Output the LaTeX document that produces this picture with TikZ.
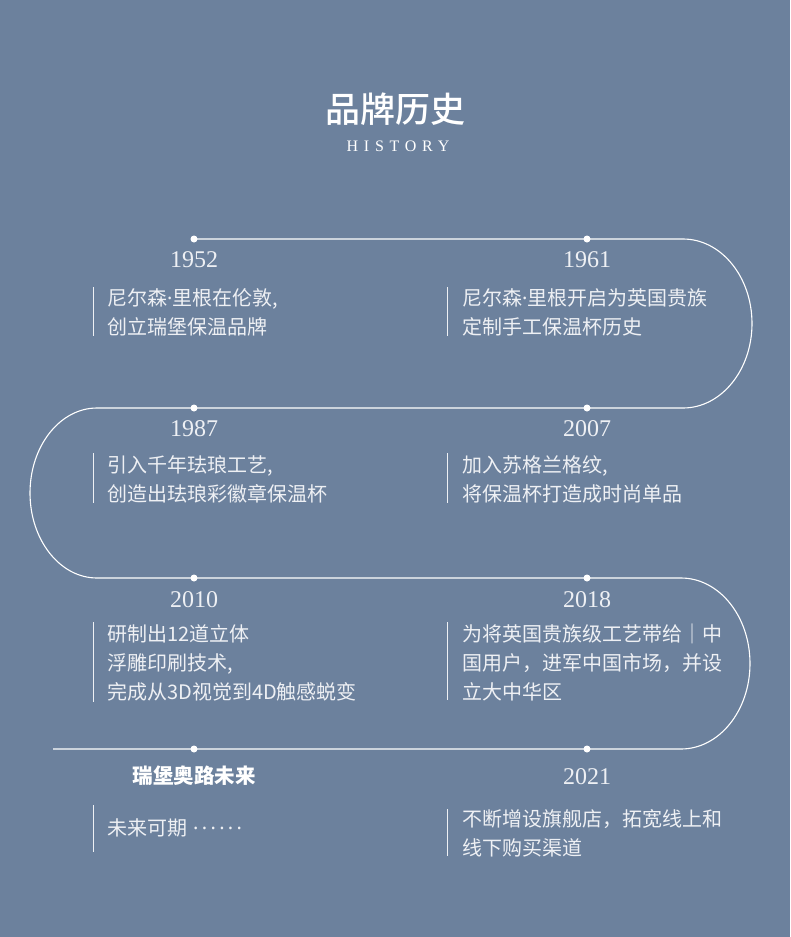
\documentclass[tikz,border=0pt]{standalone}
\usepackage{fontspec}
\setmainfont{Liberation Serif}
\newfontfamily\cjk{Noto Sans CJK SC}
\IfFontExistsTF{Noto Sans CJK SC Medium}
    {\newfontfamily\cjktieude{Noto Sans CJK SC Medium}}
    {\newfontfamily\cjktieude[FakeBold=1.5]{Noto Sans CJK SC}}
\newfontfamily\latinsans{Noto Sans}
\newfontfamily\histfont[LetterSpace=36]{Liberation Serif}
\definecolor{nen}{RGB}{108,129,157}
\definecolor{chu}{RGB}{238,240,244}
\newcommand{\chamgiua}{{\latinsans ·}}

\begin{document}
\begin{tikzpicture}[x=1pt, y=-1pt,
    duong/.style={draw=white, line width=1.1pt},
    vach/.style={draw=chu, line width=1pt},
    cham/.style={circle, fill=white, inner sep=0pt, minimum size=7pt},
    nam/.style={anchor=base, inner sep=0pt, text=chu, font=\fontsize{24}{24}\selectfont},
    sukien/.style={anchor=base west, inner sep=0pt, text=chu, align=left,
        font=\cjk\fontsize{20}{29.2}\selectfont}]
    % Nền
    \fill[nen] (0,0) rectangle (790,937);
    \useasboundingbox (0,0) rectangle (790,937);
    % Tiêu đề
    \node[text=white, inner sep=0pt, font=\cjktieude\fontsize{35}{35}\selectfont] (tieude) at (395,109) {品牌历史};
    \node[anchor=base, text=white, inner sep=0pt, font=\histfont\fontsize{16}{16}\selectfont] (phude) at (398,151.7) {HISTORY};
    % Các mốc trên đường
    \coordinate (m1952) at (194,239);
    \coordinate (m1961) at (587,239);
    \coordinate (m1987) at (194,408);
    \coordinate (m2007) at (587,408);
    \coordinate (m2010) at (194,578);
    \coordinate (m2018) at (587,578);
    \coordinate (mtuonglai) at (194,749);
    \coordinate (m2021) at (587,749);
    \coordinate (dau) at (53,749);
    % Đường thời gian uốn khúc
    \draw[duong] (m1952) -- (683,239)
        arc[start angle=-90, end angle=90, x radius=69, y radius=84.5] -- (97,408)
        arc[start angle=270, end angle=90, x radius=67, y radius=85] -- (681,578)
        arc[start angle=-90, end angle=90, x radius=69, y radius=85.5] -- (dau);
    \node[cham] (c1952) at (m1952) {};
    \node[cham] (c1961) at (m1961) {};
    \node[cham] (c1987) at (m1987) {};
    \node[cham] (c2007) at (m2007) {};
    \node[cham] (c2010) at (m2010) {};
    \node[cham] (c2018) at (m2018) {};
    \node[cham] (ctuonglai) at (mtuonglai) {};
    \node[cham] (c2021) at (m2021) {};
    % Năm
    \node[nam] (n1952) at (194,267) {1952};
    \node[nam] (n1961) at (587,267) {1961};
    \node[nam] (n1987) at (194,436) {1987};
    \node[nam] (n2007) at (587,436) {2007};
    \node[nam] (n2010) at (194,607) {2010};
    \node[nam] (n2018) at (587,607) {2018};
    \node[text=white, inner sep=0pt, font=\cjk\bfseries\fontsize{20.5}{20.5}\selectfont] (ntuonglai) at (194,776) {瑞堡奥路未来};
    \node[nam] (n2021) at (587,784) {2021};
    % Nội dung (neo ở dòng cuối)
    \draw[vach] (93,287) -- (93,336);
    \node[sukien] (s1952) at (107,334.5) {尼尔森\chamgiua 里根在伦敦,\\创立瑞堡保温品牌};
    \draw[vach] (447.5,287) -- (447.5,336);
    \node[sukien] (s1961) at (462,334.5) {尼尔森\chamgiua 里根开启为英国贵族\\定制手工保温杯历史};
    \draw[vach] (93,453) -- (93,503);
    \node[sukien] (s1987) at (107,501.7) {引入千年珐琅工艺,\\创造出珐琅彩徽章保温杯};
    \draw[vach] (447.5,453) -- (447.5,503);
    \node[sukien] (s2007) at (462,501.7) {加入苏格兰格纹,\\将保温杯打造成时尚单品};
    \draw[vach] (93,622) -- (93,702);
    \node[sukien] (s2010) at (107,699.5) {研制出12道立体\\浮雕印刷技术,\\完成从3D视觉到4D触感蜕变};
    \draw[vach] (447.5,622) -- (447.5,700);
    \node[sukien] (s2018) at (462,699.5) {为将英国贵族级工艺带给｜中\\国用户，进军中国市场，并设\\立大中华区};
    \draw[vach] (93,805) -- (93,852);
    \node[sukien] (stuonglai) at (107,835.5) {未来可期\hspace{6pt}{\latinsans ·\,·\,·\,·\,·\,·}};
    \draw[vach] (447.5,809) -- (447.5,856);
    \node[sukien] (s2021) at (462,855.5) {不断增设旗舰店，拓宽线上和\\线下购买渠道};
\end{tikzpicture}
\end{document}
